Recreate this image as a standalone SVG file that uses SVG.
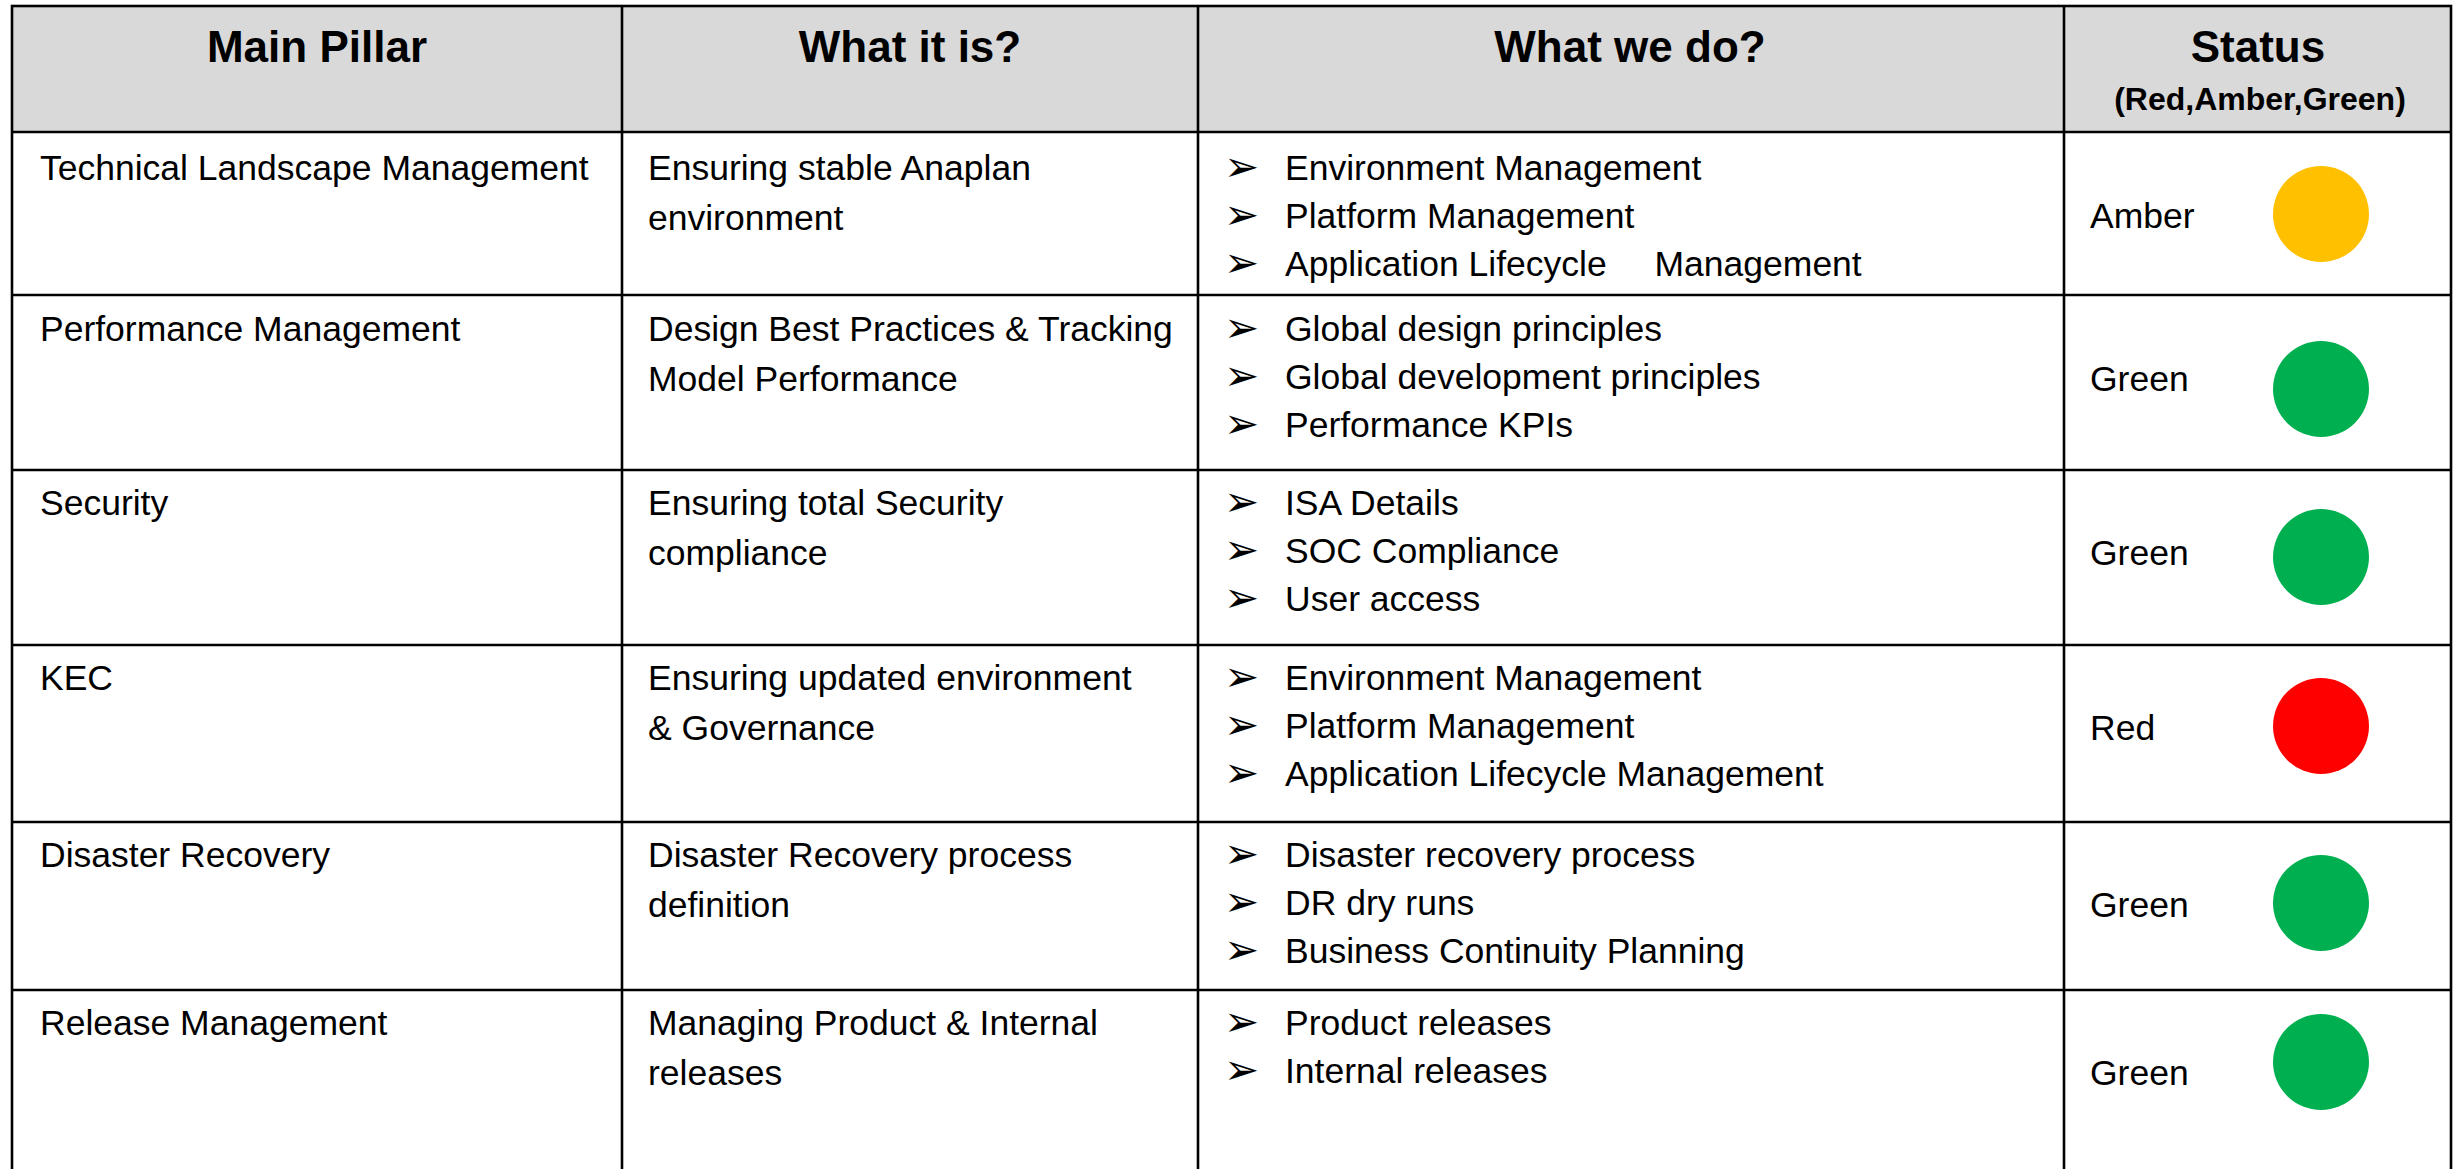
<svg xmlns="http://www.w3.org/2000/svg" width="2453" height="1169" viewBox="0 0 2453 1169">
<style>
.hd{font-family:"Liberation Sans",Arial,sans-serif;font-weight:bold;font-size:44px;fill:#000;text-anchor:middle}
.sub{font-family:"Liberation Sans",Arial,sans-serif;font-weight:bold;font-size:32px;fill:#000;text-anchor:middle}
.tx{font-family:"Liberation Sans",Arial,sans-serif;font-size:35.5px;fill:#000}
.bl{font-family:"DejaVu Sans",sans-serif;font-size:42px;fill:#000}
.ln{stroke:#000;stroke-width:2.6;fill:none}
</style>
<rect x="0" y="0" width="2453" height="1169" fill="#fff"/>
<g id="header">
<rect x="12" y="6" width="2439" height="126" fill="#D9D9D9"/>
<text class="hd" x="317" y="62">Main Pillar</text>
<text class="hd" x="910" y="62">What it is?</text>
<text class="hd" x="1630" y="62">What we do?</text>
<text class="hd" x="2258" y="62">Status</text>
<text class="sub" x="2260" y="110">(Red,Amber,Green)</text>
</g>
<g id="grid">
<rect class="ln" x="12" y="6" width="2439" height="1180"/>
<line class="ln" x1="12" y1="132" x2="2451" y2="132"/>
<line class="ln" x1="12" y1="295" x2="2451" y2="295"/>
<line class="ln" x1="12" y1="470" x2="2451" y2="470"/>
<line class="ln" x1="12" y1="645" x2="2451" y2="645"/>
<line class="ln" x1="12" y1="822" x2="2451" y2="822"/>
<line class="ln" x1="12" y1="990" x2="2451" y2="990"/>
<line class="ln" x1="622" y1="6" x2="622" y2="1169"/>
<line class="ln" x1="1198" y1="6" x2="1198" y2="1169"/>
<line class="ln" x1="2064" y1="6" x2="2064" y2="1169"/>
</g>
<g id="row1">
<text class="tx" x="40" y="180">Technical Landscape Management</text>
<text class="tx" x="648" y="180">Ensuring stable Anaplan</text>
<text class="tx" x="648" y="230">environment</text>
<text class="bl" x="1224" y="181">➢</text><text class="tx" x="1285" y="180">Environment Management</text>
<text class="bl" x="1224" y="229">➢</text><text class="tx" x="1285" y="228">Platform Management</text>
<text class="bl" x="1224" y="277">➢</text><text class="tx" x="1285" y="276">Application Lifecycle <tspan dx="38">Management</tspan></text>
<text class="tx" x="2090" y="228">Amber</text>
<circle cx="2321" cy="214" r="48" fill="#FFC000"/>
</g>
<g id="row2">
<text class="tx" x="40" y="341">Performance Management</text>
<text class="tx" x="648" y="341">Design Best Practices &amp; Tracking</text>
<text class="tx" x="648" y="391">Model Performance</text>
<text class="bl" x="1224" y="342">➢</text><text class="tx" x="1285" y="341">Global design principles</text>
<text class="bl" x="1224" y="390">➢</text><text class="tx" x="1285" y="389">Global development principles</text>
<text class="bl" x="1224" y="438">➢</text><text class="tx" x="1285" y="437">Performance KPIs</text>
<text class="tx" x="2090" y="391">Green</text>
<circle cx="2321" cy="389" r="48" fill="#00B050"/>
</g>
<g id="row3">
<text class="tx" x="40" y="515">Security</text>
<text class="tx" x="648" y="515">Ensuring total Security</text>
<text class="tx" x="648" y="565">compliance</text>
<text class="bl" x="1224" y="516">➢</text><text class="tx" x="1285" y="515">ISA Details</text>
<text class="bl" x="1224" y="564">➢</text><text class="tx" x="1285" y="563">SOC Compliance</text>
<text class="bl" x="1224" y="612">➢</text><text class="tx" x="1285" y="611">User access</text>
<text class="tx" x="2090" y="565">Green</text>
<circle cx="2321" cy="557" r="48" fill="#00B050"/>
</g>
<g id="row4">
<text class="tx" x="40" y="690">KEC</text>
<text class="tx" x="648" y="690">Ensuring updated environment</text>
<text class="tx" x="648" y="740">&amp; Governance</text>
<text class="bl" x="1224" y="691">➢</text><text class="tx" x="1285" y="690">Environment Management</text>
<text class="bl" x="1224" y="739">➢</text><text class="tx" x="1285" y="738">Platform Management</text>
<text class="bl" x="1224" y="787">➢</text><text class="tx" x="1285" y="786">Application Lifecycle Management</text>
<text class="tx" x="2090" y="740">Red</text>
<circle cx="2321" cy="726" r="48" fill="#FF0000"/>
</g>
<g id="row5">
<text class="tx" x="40" y="867">Disaster Recovery</text>
<text class="tx" x="648" y="867">Disaster Recovery process</text>
<text class="tx" x="648" y="917">definition</text>
<text class="bl" x="1224" y="868">➢</text><text class="tx" x="1285" y="867">Disaster recovery process</text>
<text class="bl" x="1224" y="916">➢</text><text class="tx" x="1285" y="915">DR dry runs</text>
<text class="bl" x="1224" y="964">➢</text><text class="tx" x="1285" y="963">Business Continuity Planning</text>
<text class="tx" x="2090" y="917">Green</text>
<circle cx="2321" cy="903" r="48" fill="#00B050"/>
</g>
<g id="row6">
<text class="tx" x="40" y="1035">Release Management</text>
<text class="tx" x="648" y="1035">Managing Product &amp; Internal</text>
<text class="tx" x="648" y="1085">releases</text>
<text class="bl" x="1224" y="1036">➢</text><text class="tx" x="1285" y="1035">Product releases</text>
<text class="bl" x="1224" y="1084">➢</text><text class="tx" x="1285" y="1083">Internal releases</text>
<text class="tx" x="2090" y="1085">Green</text>
<circle cx="2321" cy="1062" r="48" fill="#00B050"/>
</g>
</svg>
